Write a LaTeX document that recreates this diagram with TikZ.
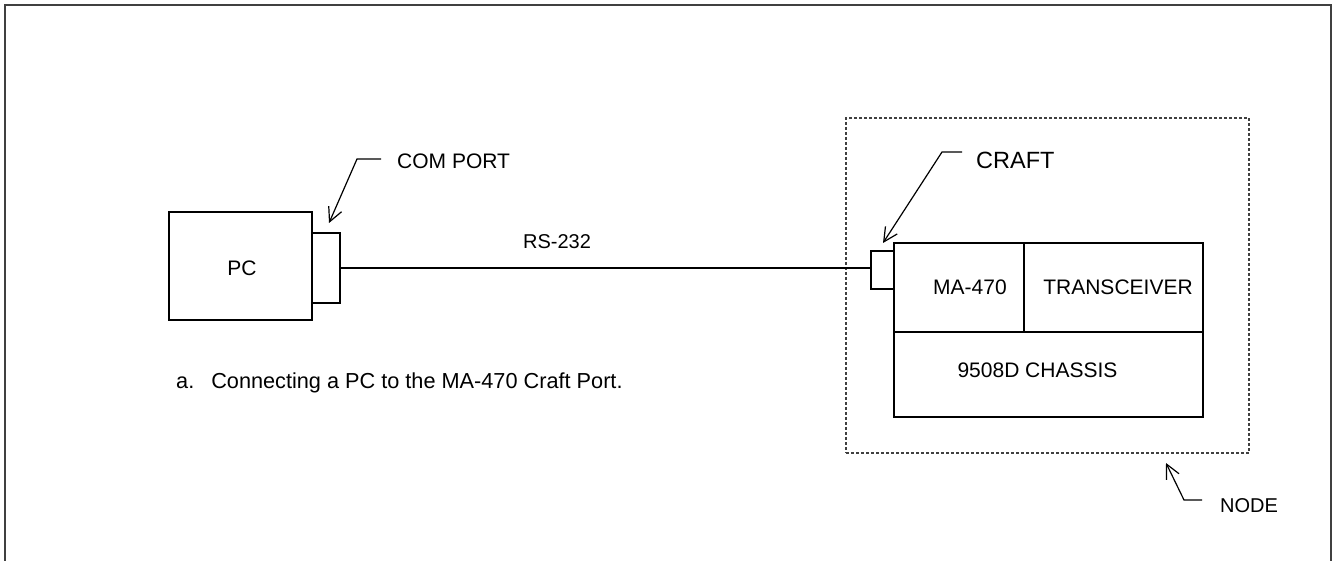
\documentclass[tikz,border=0pt]{standalone}
\usepackage{fontspec}
\setmainfont{Liberation Sans}
\usetikzlibrary{arrows.meta}
\begin{document}
\begin{tikzpicture}[x=1pt,y=-1pt,
  box/.style={draw=black,line width=1.3pt,inner sep=0pt,outer sep=0pt,rectangle},
  txt/.style={inner sep=0pt,font=\fontsize{21}{25}\selectfont},
  wire/.style={draw=black,line width=1.3pt},
  callout/.style={draw=black,line width=1.2pt,-{Straight Barb[length=14pt,width=14pt,line width=1.2pt]}},
  frameline/.style={draw=black!75,line width=2pt},
  nodebox/.style={draw=black!75,line width=1.3pt,dash pattern=on 3pt off 2pt}]
\useasboundingbox (0,0) rectangle (1336,561);
% outer frame (open at the bottom)
\draw[frameline] (4.5,561) -- (4.5,5) -- (1330.5,5) -- (1330.5,561);
% PC and COM port
\node[box,minimum width=143pt,minimum height=108pt] (pc) at (240.5,266) {};
\node[txt] (pctext) at (242,268) {PC};
\node[box,minimum width=28pt,minimum height=70pt] (com) at (326,268) {};
% node box
\node[nodebox,minimum width=403pt,minimum height=335pt] (nodebox) at (1047.5,285.5) {};
% chassis and cards
\node[box,minimum width=130pt,minimum height=89pt] (ma) at (959,287.5) {};
\node[box,minimum width=179pt,minimum height=89pt] (trx) at (1113.5,287.5) {};
\node[box,minimum width=309pt,minimum height=85pt] (chassis) at (1048.5,374.5) {};
\node[txt] (matext) at (970,287) {MA-470};
\node[txt] (trxtext) at (1118,287) {TRANSCEIVER};
\node[txt] (chtext) at (1037.5,370) {9508D CHASSIS};
% craft port
\node[box,minimum width=23pt,minimum height=38pt] (craft) at (882.5,270) {};
% RS-232 link
\draw[wire] (com.east) -- (com.east -| craft.west);
\node[txt,font=\fontsize{20}{24}\selectfont] (rs) at (557,242) {RS-232};
% callouts
\node[txt,anchor=west] (comlbl) at (397,161) {COM PORT};
\coordinate (comknee) at (357,159);
\coordinate (comend) at (381,159);
\coordinate (comtip) at (329,223);
\draw[callout] (comend) -- (comknee) -- (comtip);
\node[txt,anchor=west,font=\fontsize{23.5}{28}\selectfont] (craftlbl) at (976,160) {CRAFT};
\coordinate (craftknee) at (942,152);
\coordinate (craftend) at (962,152);
\coordinate (crafttip) at (883,243);
\draw[callout] (craftend) -- (craftknee) -- (crafttip);
\node[txt,anchor=west,font=\fontsize{20}{24}\selectfont] (nodelbl) at (1220,506) {NODE};
\coordinate (nodeknee) at (1184,500);
\coordinate (nodeend) at (1202,500);
\coordinate (nodetip) at (1166,463);
\draw[callout] (nodeend) -- (nodeknee) -- (nodetip);
% caption
\node[txt,anchor=west,font=\fontsize{21.7}{26}\selectfont] (caption) at (176,383) {a.\hspace{17pt}Connecting a PC to the MA-470 Craft Port.};
\end{tikzpicture}
\end{document}
